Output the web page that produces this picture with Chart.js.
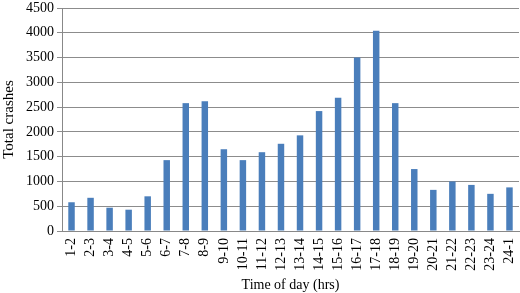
<!DOCTYPE html>
<html><head><meta charset="utf-8">
<script src="https://cdn.jsdelivr.net/npm/chart.js@4/dist/chart.umd.min.js"></script>
<style>html,body{margin:0;padding:0;background:#fff}#w{width:520px;height:293px}</style>
</head><body><div id="w"><canvas id="c"></canvas></div>
<script>
const categories = ["1-2","2-3","3-4","4-5","5-6","6-7","7-8","8-9","9-10","10-11","11-12","12-13","13-14","14-15","15-16","16-17","17-18","18-19","19-20","20-21","21-22","22-23","23-24","24-1"];
const totalCrashes = [580,670,470,430,700,1430,2580,2620,1650,1430,1590,1760,1930,2420,2690,3500,4040,2580,1250,830,1000,930,750,880];
const yMin = 0, yMax = 4500, yStep = 500;
const xTitle = "Time of day (hrs)";
const yTitle = "Total crashes";

const font = {family: "'Liberation Serif', 'Times New Roman', serif", size: 14};
new Chart(document.getElementById('c'), {
  type: 'bar',
  data: {labels: categories, datasets: [{data: totalCrashes, backgroundColor: '#4a7ebb', barPercentage: 0.34, categoryPercentage: 1}]},
  options: {
    responsive: true, maintainAspectRatio: false, animation: false,
    layout: {padding: {top: 8, right: 1, left: 0, bottom: 0}},
    plugins: {legend: {display: false}, tooltip: {enabled: false}},
    scales: {
      x: {
        grid: {display: false, drawTicks: false},
        border: {color: '#888', width: 1},
        ticks: {font: font, color: '#000', maxRotation: 90, minRotation: 90, padding: 7, autoSkip: false},
        title: {display: true, text: xTitle, font: {family: font.family, size: 14}, color: '#000', padding: {top: 4, bottom: -1}},
        afterFit: s => { s.height = 62; s.paddingLeft = 0; s.paddingRight = 0; }
      },
      y: {
        min: yMin, max: yMax,
        grid: {color: '#8c8c8c', lineWidth: 1, tickLength: 5},
        border: {color: '#888', width: 1},
        ticks: {stepSize: yStep, font: font, color: '#000', padding: 3, callback: v => String(v)},
        title: {display: true, text: yTitle, font: {family: font.family, size: 15}, color: '#000', padding: {top: 0, bottom: 4}},
        afterFit: s => { s.width = 62; s.paddingTop = 0; s.paddingBottom = 0; }
      }
    }
  }
});
</script></body></html>
